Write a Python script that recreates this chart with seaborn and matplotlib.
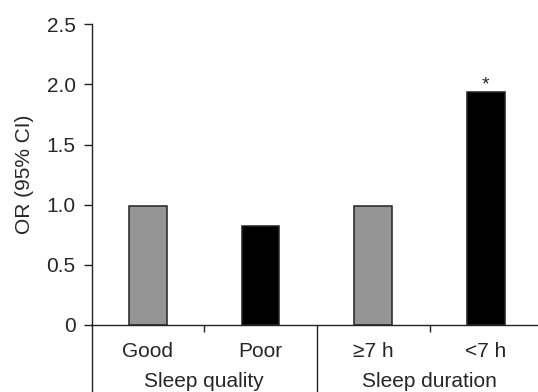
import matplotlib
matplotlib.use("Agg")
import matplotlib.pyplot as plt
import seaborn as sns
import pandas as pd

categories = ["Good", "Poor", "\u22657 h", "<7 h"]
values = [0.99, 0.82, 0.99, 1.94]
groups = ["Sleep quality", "Sleep duration"]
group_centers = [0.5, 2.5]
bar_colors = ["#959595", "#000000", "#959595", "#000000"]
yticks = [0, 0.5, 1.0, 1.5, 2.0, 2.5]
ytick_labels = ["0", "0.5", "1.0", "1.5", "2.0", "2.5"]
star_labels = ["", "", "", "*"]

sns.set_style("ticks")
plt.rcParams["font.family"] = ["Liberation Sans", "DejaVu Sans"]

df = pd.DataFrame({"cat": categories, "val": values})

fig = plt.figure(figsize=(5.38, 3.92), dpi=100)
ax = fig.add_axes([91.5 / 538, 67 / 392, 446.5 / 538, 300.7 / 392])

sns.barplot(data=df, x="cat", y="val", hue="cat", order=categories,
            hue_order=categories, palette=dict(zip(categories, bar_colors)),
            width=0.335, edgecolor="#222222", linewidth=1.1, legend=False,
            ax=ax, errorbar=None)

ax.set_xlim(-0.5, 3.462)
ax.set_ylim(0, 2.5)
ax.set_yticks(yticks)
ax.set_yticklabels(ytick_labels, fontsize=15)
ax.set_xticks(range(len(categories)))
ax.set_xticklabels(categories, fontsize=15)
ax.set_xticks(group_centers, minor=True)
ax.tick_params(axis="x", which="major", length=0, pad=12.5)
ax.tick_params(axis="x", which="minor", length=5.3, width=1.0, direction="out", color="#222222")
ax.tick_params(axis="y", length=5.5, width=1.0, pad=6, color="#222222")
ax.set_xlabel("")
ax.set_ylabel("OR (95% CI)", fontsize=15, labelpad=9)

for s in ["top", "right"]:
    ax.spines[s].set_visible(False)
for s in ["left", "bottom"]:
    ax.spines[s].set_linewidth(1.0)
    ax.spines[s].set_color("#222222")

# extended left axis and separator below the x-axis
ax.plot([0, 0], [0, -0.3], transform=ax.transAxes, color="#222222", lw=1.0, clip_on=False)
ax.plot([1.5, 1.5], [0, -0.3], transform=ax.get_xaxis_transform(), color="#222222", lw=1.0, clip_on=False)

for gx, g in zip(group_centers, groups):
    ax.annotate(g, xy=(gx, 0), xycoords=("data", "axes fraction"),
                xytext=(0, -47), textcoords="offset pixels",
                ha="center", va="top", fontsize=15, annotation_clip=False)

for i, (v, s) in enumerate(zip(values, star_labels)):
    if s:
        ax.annotate(s, xy=(i, v), xytext=(0, 2), textcoords="offset pixels",
                    ha="center", va="baseline", fontsize=14)

fig.savefig("out.png", dpi=100)
